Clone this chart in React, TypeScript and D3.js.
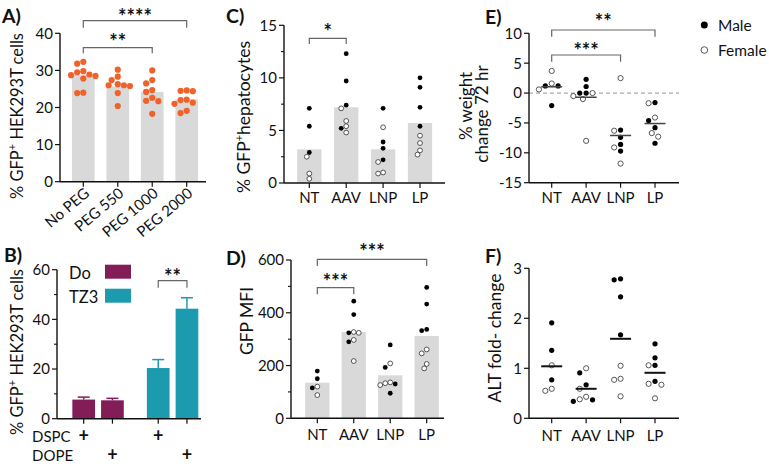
import React from "react";
import * as d3 from "d3";

const FONT = "Lato, 'Open Sans', 'DejaVu Sans', sans-serif";
const INK = "#111";
const BAR = "#d9d9d9";
const ORANGE = "#f0622a";
const DO_COL = "#821d57";
const TZ3_COL = "#1b9bad";
const TICK_FS = 15;
const TITLE_FS = 17.5;

// ---------- Panel A ----------
const pegCats = ["No PEG", "PEG 550", "PEG 1000", "PEG 2000"];
const pegBars = [28.7, 25.7, 24.2, 22.2];
const pegPoints = [
  [32.3, 31.8, 29.8, 29.5, 28.9, 28.7, 28.5, 27.8, 24.0, 23.9],
  [30.2, 28.3, 27.4, 26.3, 26.0, 26.0, 25.8, 23.9, 20.4],
  [30.0, 27.4, 26.5, 24.7, 24.2, 22.6, 21.8, 21.7, 18.3],
  [24.6, 24.5, 24.4, 22.1, 22.0, 21.3, 21.0, 19.1, 18.5],
];
const pegTicks = [0, 10, 20, 30, 40];

// ---------- Panel B ----------
const ionLipids = ["Do", "TZ3"];
const helperLipids = ["DSPC", "DOPE"];
const doMeans = [7.7, 7.4];
const doErr = [1.0, 0.8];
const tz3Means = [20.4, 44.3];
const tz3Err = [3.4, 4.4];
const bTicks = [0, 20, 40, 60];
const bMinor = [10, 30, 50];

// ---------- Panels C-F ----------
const mouseCats = ["NT", "AAV", "LNP", "LP"];

const cBars = [3.2, 7.2, 3.2, 5.7];
const cMale = [[7.1, 5.4, 2.9], [12.3, 9.7, 7.4, 5.2], [7.1, 3.9, 3.3, 2.2], [10.0, 9.1, 7.2, 5.4]];
const cFemale = [[2.5, 0.9, 0.4], [7.1, 5.9, 5.4, 4.8], [5.3, 2.0, 1.0, 0.9], [4.5, 3.8, 3.1, 2.7]];
const cTicks = [0, 5, 10, 15];
const cMinor = [2.5, 7.5, 12.5];

const dBars = [135, 327, 163, 312];
const dMale = [[179, 150, 115], [444, 393, 324, 290], [278, 193, 130, 95], [496, 433, 337, 332]];
const dFemale = [[120, 88], [327, 324, 297, 217], [208, 136, 133, 126], [261, 246, 206, 189]];
const dTicks = [0, 200, 400, 600];
const dMinor = [100, 300, 500];

const eMeans = [1.05, -0.7, -7.1, -5.1];
const eMale = [[1.2, 1.2, -2.1], [2.3, 1.1, 0, 0], [-6.2, -7.4, -8.6, -9.7], [-1.6, -4.6, -5.8, -8.4]];
const eFemale = [[3.7, 1.6, 0.6], [0, -0.5, -1.0, -8.0], [2.5, -6.3, -9.1, -11.8], [-1.7, -4.1, -6.7, -7.3]];
const eTicks = [-15, -10, -5, 0, 5, 10];

const fMeans = [1.04, 0.59, 1.59, 0.91];
const fMale = [[1.91, 1.36, 0.77], [0.91, 0.67, 0.37, 0.34], [2.79, 2.77, 2.43, 1.67], [1.49, 1.21, 1.06, 0.74]];
const fFemale = [[1.06, 0.59, 0.55], [1.0, 0.59, 0.43, 0.38], [1.05, 0.79, 0.77, 0.44], [1.06, 0.69, 0.67, 0.40]];
const fTicks = [0, 1, 2, 3];

// ---------- helpers ----------
function swarmOffsets(ys: number[], d: number): number[] {
  const order = ys.map((_, i) => i).sort((a, b) => ys[a] - ys[b]);
  const placed: { x: number; y: number }[] = [];
  const out = new Array(ys.length).fill(0);
  for (const i of order) {
    const y = ys[i];
    for (let k = 0; k < 60; k++) {
      const m = Math.ceil(k / 2) * (k % 2 === 1 ? -1 : 1);
      const x = (m * d) / 2;
      if (placed.every((p) => (p.x - x) ** 2 + (p.y - y) ** 2 >= d * d * 0.92)) {
        out[i] = x;
        placed.push({ x, y });
        break;
      }
    }
  }
  return out;
}

function YAxis({ x, scale, ticks, minor = [] as number[] }: any) {
  const [d0, d1] = scale.domain();
  return (
    <g>
      <line x1={x} x2={x} y1={scale(d0)} y2={scale(d1)} stroke={INK} strokeWidth={1.4} />
      {ticks.map((t: number) => (
        <g key={t}>
          <line x1={x - 5} x2={x} y1={scale(t)} y2={scale(t)} stroke={INK} strokeWidth={1.2} />
          <text x={x - 7} y={scale(t)} dy="0.36em" textAnchor="end" fontSize={TICK_FS} fill={INK}>
            {t}
          </text>
        </g>
      ))}
      {minor.map((t: number) => (
        <line key={"m" + t} x1={x - 3} x2={x} y1={scale(t)} y2={scale(t)} stroke={INK} strokeWidth={1.1} />
      ))}
    </g>
  );
}

function XAxis({ x0, x1, y, centers }: any) {
  return (
    <g>
      <line x1={x0} x2={x1} y1={y} y2={y} stroke={INK} strokeWidth={1.4} />
      {centers.map((c: number, i: number) => (
        <line key={i} x1={c} x2={c} y1={y} y2={y + 5} stroke={INK} strokeWidth={1.2} />
      ))}
    </g>
  );
}

function Bracket({ x1, x2, y, leg, label, labelY }: any) {
  const fs = 20;
  return (
    <g>
      <path d={`M${x1},${y + leg}V${y}H${x2}V${y + leg}`} fill="none" stroke="#666" strokeWidth={1.2} />
      <text x={(x1 + x2) / 2} y={labelY + fs * 0.54} textAnchor="middle" fontSize={fs} fontWeight="bold" fill={INK}>
        {label}
      </text>
    </g>
  );
}

function VText({ x, y, children, size = TITLE_FS }: any) {
  return (
    <text transform={`translate(${x},${y}) rotate(-90)`} textAnchor="middle" fontSize={size} fill={INK}>
      {children}
    </text>
  );
}

function GfpPlus({ rest }: { rest: string }) {
  return (
    <>
      <tspan>% GFP</tspan>
      <tspan fontSize={11} dy={-7}>+</tspan>
      <tspan dy={7}>{rest}</tspan>
    </>
  );
}

function SexDots({ x, y, male, female, r, d }: any) {
  const pts = [
    ...male.map((v: number) => ({ v, m: true })),
    ...female.map((v: number) => ({ v, m: false })),
  ];
  const ys = pts.map((p: any) => y(p.v));
  const offs = swarmOffsets(ys, d);
  return (
    <g>
      {pts.map((p: any, i: number) => (
        <circle
          key={i}
          cx={x + offs[i]}
          cy={ys[i]}
          r={r}
          fill={p.m ? "#000" : "#fff"}
          stroke={p.m ? "#000" : "#444"}
          strokeWidth={p.m ? 0 : 0.9}
        />
      ))}
    </g>
  );
}

function CatLabels({ xs, y, labels }: any) {
  return (
    <g>
      {labels.map((l: string, i: number) => (
        <text key={l} x={xs[i]} y={y} textAnchor="middle" fontSize={TICK_FS} fill={INK}>
          {l}
        </text>
      ))}
    </g>
  );
}

export default function App() {
  // Panel A
  const yA = d3.scaleLinear().domain([0, 40]).range([181.7, 33.3]);
  const xA = d3.scalePoint<string>().domain(pegCats).range([83.3, 186.7]);
  const barWA = 22.7;

  // Panel B
  const yB = d3.scaleLinear().domain([0, 60]).range([418.7, 269.7]);
  const outerB = d3.scaleBand<string>().domain(ionLipids).range([72.35, 198.3]).paddingInner(0.31);
  const innerB = d3.scaleBand<string>().domain(helperLipids).range([0, outerB.bandwidth()]).paddingInner(0.21);
  const bSeries = [
    { key: "Do", means: doMeans, err: doErr, color: DO_COL },
    { key: "TZ3", means: tz3Means, err: tz3Err, color: TZ3_COL },
  ];
  const bCenter = (g: string, h: string) => (outerB(g) as number) + (innerB(h) as number) + innerB.bandwidth() / 2;

  // Panel C
  const yC = d3.scaleLinear().domain([0, 15]).range([183, 25.3]);
  const xC = d3.scalePoint<string>().domain(mouseCats).range([309.3, 420]);
  // Panel D
  const yD = d3.scaleLinear().domain([0, 600]).range([418.3, 260]);
  const xD = d3.scalePoint<string>().domain(mouseCats).range([317.3, 426.7]);
  const barWCD = 24.3;
  // Panel E
  const yE = d3.scaleLinear().domain([-15, 10]).range([182.7, 33.3]);
  const xE = d3.scalePoint<string>().domain(mouseCats).range([551.7, 655]);
  // Panel F
  const yF = d3.scaleLinear().domain([0, 3]).range([418.3, 268.3]);
  const xF = xE;

  const letter = (t: string, x: number, y: number) => (
    <text x={x} y={y} fontSize={19.5} fontWeight="bold" fill={INK}>
      {t}
    </text>
  );

  return (
    <svg
      width={769}
      height={467}
      style={{ position: "absolute", left: 0, top: 0, background: "#fff", fontFamily: FONT }}
    >
      <rect width={769} height={467} fill="#fff" />

      {/* ===== Panel A ===== */}
      {letter("A)", 2, 23)}
      <VText x={23} y={116} size={16.5}>
        <GfpPlus rest=" HEK293T cells" />
      </VText>
      {pegCats.map((c, i) => (
        <rect key={c} x={(xA(c) as number) - barWA / 2} y={yA(pegBars[i])} width={barWA} height={yA(0) - yA(pegBars[i])} fill={BAR} />
      ))}
      {pegCats.map((c, i) => {
        const ys = pegPoints[i].map((v) => yA(v));
        const offs = swarmOffsets(ys, 6.1);
        return (
          <g key={c}>
            {ys.map((yy, j) => (
              <circle key={j} cx={(xA(c) as number) + offs[j]} cy={yy} r={3.1} fill={ORANGE} />
            ))}
          </g>
        );
      })}
      <YAxis x={60} scale={yA} ticks={pegTicks} />
      <XAxis x0={60} x1={206} y={yA(0)} centers={pegCats.map((c) => xA(c))} />
      {pegCats.map((c) => (
        <text
          key={c}
          transform={`translate(${(xA(c) as number) + 7},${195}) rotate(-40)`}
          textAnchor="end"
          fontSize={TICK_FS}
          fill={INK}
        >
          {c}
        </text>
      ))}
      <Bracket x1={xA("No PEG")} x2={xA("PEG 2000")} y={20.7} leg={7} label="****" labelY={13.5} />
      <Bracket x1={xA("No PEG")} x2={xA("PEG 1000")} y={47.7} leg={5.6} label="**" labelY={38.5} />

      {/* ===== Panel B ===== */}
      {letter("B)", 4, 262)}
      <VText x={23} y={352} size={16.5}>
        <GfpPlus rest=" HEK293T cells" />
      </VText>
      {bSeries.map((s) =>
        helperLipids.map((h, i) => {
          const cx = bCenter(s.key, h);
          const top = yB(s.means[i]);
          const et = yB(s.means[i] + s.err[i]);
          return (
            <g key={s.key + h}>
              <rect x={cx - innerB.bandwidth() / 2} y={top} width={innerB.bandwidth()} height={yB(0) - top} fill={s.color} />
              <line x1={cx} x2={cx} y1={top} y2={et} stroke={s.color} strokeWidth={1.5} />
              <line x1={cx - 6} x2={cx + 6} y1={et} y2={et} stroke={s.color} strokeWidth={1.5} />
            </g>
          );
        })
      )}
      <YAxis x={57} scale={yB} ticks={bTicks} minor={bMinor} />
      <XAxis x0={57} x1={201} y={yB(0)} centers={bSeries.flatMap((s) => helperLipids.map((h) => bCenter(s.key, h)))} />
      <Bracket x1={bCenter("TZ3", "DSPC")} x2={bCenter("TZ3", "DOPE")} y={280.7} leg={7} label="**" labelY={273} />
      {/* legend */}
      {bSeries.map((s, i) => (
        <g key={s.key}>
          <text x={69} y={279 + i * 23.5} fontSize={16.5} fill={INK}>
            {s.key}
          </text>
          <rect x={105} y={264.7 + i * 24} width={26} height={14} fill={s.color} />
        </g>
      ))}
      {/* +/- table */}
      {helperLipids.map((h, i) => (
        <g key={h}>
          <text x={32} y={442 + i * 19} fontSize={15} fill={INK}>
            {h}
          </text>
          {ionLipids.map((g) => (
            <text key={g} x={bCenter(g, h)} y={442 + i * 19} textAnchor="middle" fontSize={18} fontWeight="bold" fill={INK}>
              +
            </text>
          ))}
        </g>
      ))}

      {/* ===== Panel C ===== */}
      {letter("C)", 226, 23)}
      <VText x={250} y={117}>
        <GfpPlus rest="hepatocytes" />
      </VText>
      {mouseCats.map((c, i) => (
        <rect key={c} x={(xC(c) as number) - barWCD / 2} y={yC(cBars[i])} width={barWCD} height={yC(0) - yC(cBars[i])} fill={BAR} />
      ))}
      {mouseCats.map((c, i) => (
        <SexDots key={c} x={xC(c)} y={yC} male={cMale[i]} female={cFemale[i]} r={2.4} d={5.0} />
      ))}
      <YAxis x={284} scale={yC} ticks={cTicks} minor={cMinor} />
      <XAxis x0={284} x1={445} y={yC(0)} centers={mouseCats.map((c) => xC(c))} />
      <CatLabels xs={mouseCats.map((c) => xC(c))} y={203} labels={mouseCats} />
      <Bracket x1={xC("NT")} x2={xC("AAV")} y={38.3} leg={5.7} label="*" labelY={28} />

      {/* ===== Panel D ===== */}
      {letter("D)", 226, 265)}
      <VText x={253} y={321}>GFP MFI</VText>
      {mouseCats.map((c, i) => (
        <rect key={c} x={(xD(c) as number) - barWCD / 2} y={yD(dBars[i])} width={barWCD} height={yD(0) - yD(dBars[i])} fill={BAR} />
      ))}
      {mouseCats.map((c, i) => (
        <SexDots key={c} x={xD(c)} y={yD} male={dMale[i]} female={dFemale[i]} r={2.4} d={5.0} />
      ))}
      <YAxis x={291} scale={yD} ticks={dTicks} minor={dMinor} />
      <XAxis x0={291} x1={444} y={yD(0)} centers={mouseCats.map((c) => xD(c))} />
      <CatLabels xs={mouseCats.map((c) => xD(c))} y={440} labels={mouseCats} />
      <Bracket x1={xD("NT")} x2={xD("LP")} y={259.3} leg={6.7} label="***" labelY={248.3} />
      <Bracket x1={xD("NT")} x2={xD("AAV")} y={287.7} leg={6.6} label="***" labelY={278.3} />

      {/* ===== Panel E ===== */}
      {letter("E)", 485, 24)}
      <text transform={`translate(472,106) rotate(-90)`} textAnchor="middle" fontSize={17} fill={INK}>
        % weight
      </text>
      <text transform={`translate(488,114) rotate(-90)`} textAnchor="middle" fontSize={17} fill={INK}>
        change 72 hr
      </text>
      <line x1={529} x2={679} y1={yE(0)} y2={yE(0)} stroke="#aaa" strokeWidth={1.2} strokeDasharray="4,3" />
      {mouseCats.map((c, i) => (
        <SexDots key={c} x={xE(c)} y={yE} male={eMale[i]} female={eFemale[i]} r={2.6} d={6.4} />
      ))}
      {mouseCats.map((c, i) => (
        <line key={c} x1={(xE(c) as number) - 10.5} x2={(xE(c) as number) + 10.5} y1={yE(eMeans[i])} y2={yE(eMeans[i])} stroke="#444" strokeWidth={1.5} />
      ))}
      <YAxis x={529} scale={yE} ticks={eTicks} />
      <XAxis x0={529} x1={679} y={yE(-15)} centers={mouseCats.map((c) => xE(c))} />
      <CatLabels xs={mouseCats.map((c) => xE(c))} y={203} labels={mouseCats} />
      <Bracket x1={xE("NT")} x2={xE("LP")} y={30} leg={6.7} label="**" labelY={18.3} />
      <Bracket x1={xE("NT")} x2={xE("LNP")} y={55} leg={6.7} label="***" labelY={46.7} />
      {/* legend */}
      <circle cx={704.3} cy={25} r={3.5} fill="#000" />
      <text x={718} y={30.5} fontSize={15.5} fill={INK}>Male</text>
      <circle cx={704.3} cy={50} r={3.3} fill="#fff" stroke="#444" strokeWidth={0.9} />
      <text x={718} y={55.5} fontSize={15.5} fill={INK}>Female</text>

      {/* ===== Panel F ===== */}
      {letter("F)", 485, 263)}
      <VText x={501} y={338}>ALT fold- change</VText>
      {mouseCats.map((c, i) => (
        <SexDots key={c} x={xF(c)} y={yF} male={fMale[i]} female={fFemale[i]} r={2.6} d={6.4} />
      ))}
      {mouseCats.map((c, i) => (
        <line key={c} x1={(xF(c) as number) - 10.5} x2={(xF(c) as number) + 10.5} y1={yF(fMeans[i])} y2={yF(fMeans[i])} stroke="#111" strokeWidth={2} />
      ))}
      <YAxis x={529} scale={yF} ticks={fTicks} />
      <XAxis x0={529} x1={679} y={yF(0)} centers={mouseCats.map((c) => xF(c))} />
      <CatLabels xs={mouseCats.map((c) => xF(c))} y={441} labels={mouseCats} />
    </svg>
  );
}
